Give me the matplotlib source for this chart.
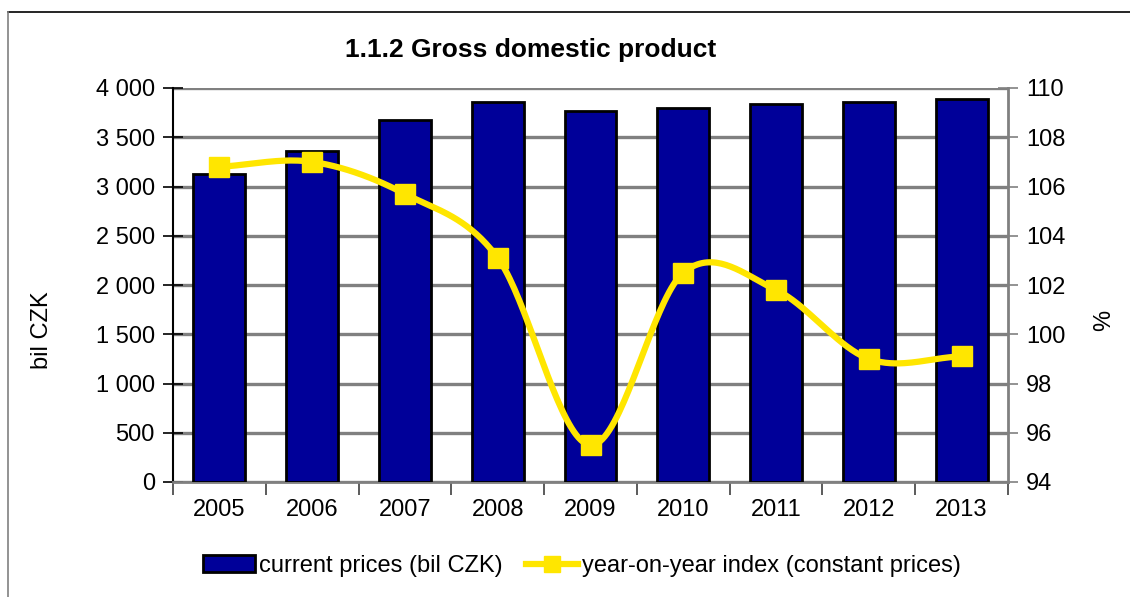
import numpy as np
import matplotlib
matplotlib.use("Agg")
import matplotlib.pyplot as plt
from matplotlib.lines import Line2D
from matplotlib.patches import Patch
from matplotlib.ticker import FuncFormatter

plt.rcParams['font.family'] = ['Liberation Sans', 'DejaVu Sans']

# data
years = ['2005', '2006', '2007', '2008', '2009', '2010', '2011', '2012', '2013']
gdp_current = [3127, 3360, 3675, 3858, 3766, 3797, 3838, 3858, 3888]
yoy_index = [106.8, 107.0, 105.7, 103.1, 95.5, 102.5, 101.8, 99.0, 99.1]

bar_color = '#000099'
line_color = '#FFE600'
grid_color = '#808080'
fs = 17


def catmull_rom(xs, ys, n=40):
    # smooth line like the spreadsheet "smoothed line" option
    xs = np.asarray(xs, float)
    ys = np.asarray(ys, float)
    px = np.concatenate([[2 * xs[0] - xs[1]], xs, [2 * xs[-1] - xs[-2]]])
    py = np.concatenate([[2 * ys[0] - ys[1]], ys, [2 * ys[-1] - ys[-2]]])
    out_x, out_y = [], []
    t = np.linspace(0, 1, n)
    for i in range(1, len(px) - 2):
        p0, p1, p2, p3 = [np.array([px[j], py[j]]) for j in range(i - 1, i + 3)]
        c1 = p1 + (p2 - p0) / 6.0
        c2 = p2 - (p3 - p1) / 6.0
        seg = ((1 - t) ** 3)[:, None] * p1 + (3 * (1 - t) ** 2 * t)[:, None] * c1 \
            + (3 * (1 - t) * t ** 2)[:, None] * c2 + (t ** 3)[:, None] * p2
        out_x.extend(seg[:, 0])
        out_y.extend(seg[:, 1])
    return np.array(out_x), np.array(out_y)


fig = plt.figure(figsize=(11.3, 5.97), dpi=100)
ax = fig.add_axes([173 / 1130, 1 - 482 / 597, (1008 - 173) / 1130, (482 - 88) / 597])

x = np.arange(len(years))
ax.bar(x, gdp_current, width=0.56, color=bar_color, edgecolor='black', linewidth=2, zorder=3)
ax.set_xlim(-0.5, len(years) - 0.5)
ax.set_ylim(0, 4000)
ax.set_yticks(np.arange(0, 4001, 500))
ax.yaxis.set_major_formatter(FuncFormatter(lambda v, p: f'{int(v):,}'.replace(',', ' ')))
ax.grid(axis='y', color=grid_color, linewidth=2.4, zorder=0)
ax.set_axisbelow(True)

ax.set_xticks(x)
ax.set_xticklabels(years)
ax.tick_params(axis='x', which='major', length=0, pad=12, labelsize=fs)
ax.set_xticks(np.arange(-0.5, len(years)), minor=True)
ax.tick_params(axis='x', which='minor', length=9, width=1.2, color='#404040', direction='out')
ax.tick_params(axis='y', length=14, width=1.2, direction='inout', labelsize=fs, pad=6)

ax.spines['top'].set_visible(False)
ax.spines['right'].set_visible(False)
ax.spines['left'].set_linewidth(1.5)
ax.spines['bottom'].set_color(grid_color)
ax.spines['bottom'].set_linewidth(2)

ax2 = ax.twinx()
ax2.set_ylim(94, 110)
ax2.set_yticks(np.arange(94, 111, 2))
sx, sy = catmull_rom(x, yoy_index)
ax2.plot(sx, sy, color=line_color, linewidth=4.5, zorder=4, solid_capstyle='round')
ax2.plot(x, yoy_index, linestyle='none', marker='s', markersize=15,
         color=line_color, zorder=5)
ax2.tick_params(axis='y', length=14, width=1.2, direction='inout', labelsize=fs,
                color=grid_color, pad=6)
for s in ['top', 'left', 'bottom']:
    ax2.spines[s].set_visible(False)
ax2.spines['right'].set_color(grid_color)
ax2.spines['right'].set_linewidth(2)

fig.text(531 / 1130, 1 - 50 / 597, '1.1.2 Gross domestic product', ha='center', va='center',
         fontsize=19, fontweight='bold')
fig.text(42 / 1130, 1 - 330 / 597, 'bil CZK', rotation=90, ha='center', va='center', fontsize=fs)
fig.text(1104 / 1130, 1 - 320 / 597, '%', rotation=90, ha='center', va='center', fontsize=fs)

handles = [Patch(facecolor=bar_color, edgecolor='black', linewidth=2),
           Line2D([0], [0], color=line_color, linewidth=4.5, marker='s', markersize=12)]
labels = ['current prices (bil CZK)', 'year-on-year index (constant prices)']
fig.legend(handles, labels, loc='center', bbox_to_anchor=(582 / 1130, 1 - 566 / 597), ncol=2,
           frameon=False, fontsize=fs, handlelength=2.2, handletextpad=0.15, columnspacing=1.0)

# outer frame of the chart
fig.add_artist(Line2D([8 / 1130, 1], [1 - 12 / 597, 1 - 12 / 597], color='black', linewidth=1.2,
                      transform=fig.transFigure))
fig.add_artist(Line2D([8 / 1130, 8 / 1130], [0, 1 - 12 / 597], color=grid_color, linewidth=1.2,
                      transform=fig.transFigure))

fig.savefig('out.png', dpi=100)
